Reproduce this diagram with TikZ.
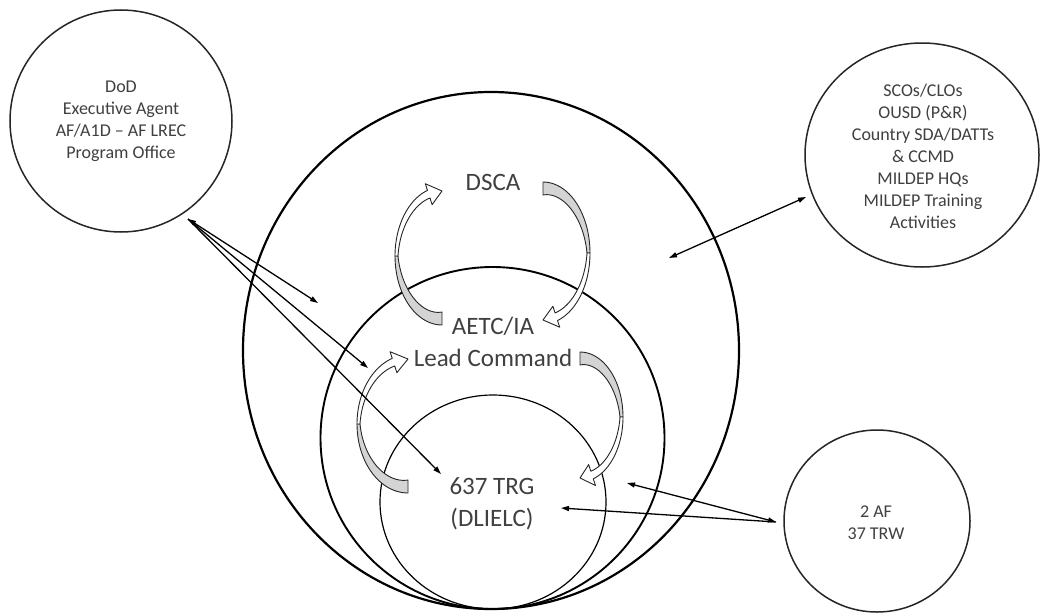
\documentclass[tikz,border=0pt]{standalone}
\usepackage{fontspec}
\setmainfont{Carlito}
\usetikzlibrary{arrows.meta}
\definecolor{txt}{HTML}{404040}
\definecolor{tailgray}{HTML}{D4D4D4}
\newcommand\crvarrow[5]{%
 \def\crvCx{#1}\def\crvCy{#2}\def\crvRx{#3}\def\crvRy{#4}\def\crvTz{#5}%
 \pgfmathsetmacro\crvTm{\crvTz+90}%
 \pgfmathsetmacro\crvTb{\crvTz+162}%
 \pgfmathsetmacro\crvTe{\crvTz+180}%
 \filldraw[tailpart] plot[domain=\crvTz:\crvTm,samples=30] ({\crvCx+\crvRx*cos(\x)},{\crvCy+\crvRy*sin(\x)})
   -- plot[domain=\crvTm:\crvTz,samples=30] ({\crvCx+(\crvRx-3-10*(\crvTm-\x)/90)*cos(\x)},{\crvCy+(\crvRy-3-10*(\crvTm-\x)/90)*sin(\x)}) -- cycle;
 \filldraw[headpart] plot[domain=\crvTm:\crvTb,samples=30] ({\crvCx+\crvRx*cos(\x)},{\crvCy+\crvRy*sin(\x)})
   -- ({\crvCx+(\crvRx+7)*cos(\crvTb)},{\crvCy+(\crvRy+7)*sin(\crvTb)})
   -- ({\crvCx+(\crvRx-4)*cos(\crvTe)},{\crvCy+(\crvRy-4)*sin(\crvTe)})
   -- ({\crvCx+(\crvRx-15)*cos(\crvTb)},{\crvCy+(\crvRy-15)*sin(\crvTb)})
   -- plot[domain=\crvTb:\crvTm,samples=30] ({\crvCx+(\crvRx-3-5*(\x-\crvTm)/72)*cos(\x)},{\crvCy+(\crvRy-3-5*(\x-\crvTm)/72)*sin(\x)}) -- cycle;
}
\begin{document}
\begin{tikzpicture}[x=1pt,y=-1pt,
  tailpart/.style={fill=tailgray,draw=black!85,line width=0.9pt,line join=round},
  headpart/.style={fill=white,draw=black!85,line width=0.9pt,line join=round},
  smalltxt/.style={text=txt,font=\fontsize{18}{22}\selectfont,align=center,inner sep=0pt},
  bigtxt/.style={text=txt,font=\fontsize{25}{32}\selectfont,align=center,inner sep=0pt},
  conn/.style={line width=1.3pt,black,-{Triangle[length=8pt,width=5pt]}},
  conn2/.style={line width=1.3pt,black,{Triangle[length=8pt,width=5pt]}-{Triangle[length=8pt,width=5pt]}}]
\useasboundingbox (0,0) rectangle (1041,613);
\fill[white] (0,0) rectangle (1041,613);
% side circles
\draw[line width=1.5pt,black!85] (121,121) ellipse [x radius=111pt,y radius=111pt];
\draw[line width=1.5pt,black!85] (922,155) ellipse [x radius=117pt,y radius=112pt];
\draw[line width=1.5pt,black!85] (877,521) ellipse [x radius=93pt,y radius=91pt];
% nested circles
\draw[line width=2.2pt] (491,350.5) ellipse [x radius=248pt,y radius=258.5pt];
\draw[line width=1.9pt] (492.5,438) ellipse [x radius=172pt,y radius=171pt];
\draw[line width=1.2pt] (493,502) ellipse [x radius=113pt,y radius=107pt];
% curved arrows
\crvarrow{442}{256}{47}{69}{90}
\crvarrow{543}{253}{47}{71}{-90}
\crvarrow{408}{424}{51}{69}{90}
\crvarrow{580}{417}{43}{65}{-90}
% labels
\node[smalltxt] (dod) at (121,121) {DoD\\Executive Agent\\AF/A1D – AF LREC\\Program Office};
\node[smalltxt] (sco) at (923,156) {SCOs/CLOs\\OUSD (P\&R)\\Country SDA/DATTs\\\& CCMD\\MILDEP HQs\\MILDEP Training\\Activities};
\node[smalltxt] (af) at (876,523) {2 AF\\37 TRW};
\node[bigtxt] (dsca) at (493,182) {DSCA};
\node[bigtxt] (aetc) at (493,342) {AETC/IA\\Lead Command};
\node[bigtxt] (trg) at (492,504) {637 TRG\\(DLIELC)};
% connector end points
\coordinate (lo) at (188,219);
\coordinate (l1) at (318,303);
\coordinate (l2) at (368,368);
\coordinate (l3) at (441,474);
\coordinate (ro) at (806,197);
\coordinate (r1) at (669,258);
\coordinate (bo) at (776,522);
\coordinate (b1) at (627,483);
\coordinate (b2) at (561,508);
\draw[conn2] (lo) -- (l1);
\draw[conn] (lo) -- (l2);
\draw[conn] (lo) -- (l3);
\draw[conn2] (ro) -- (r1);
\draw[conn2] (bo) -- (b1);
\draw[conn] (bo) -- (b2);
\end{tikzpicture}
\end{document}
